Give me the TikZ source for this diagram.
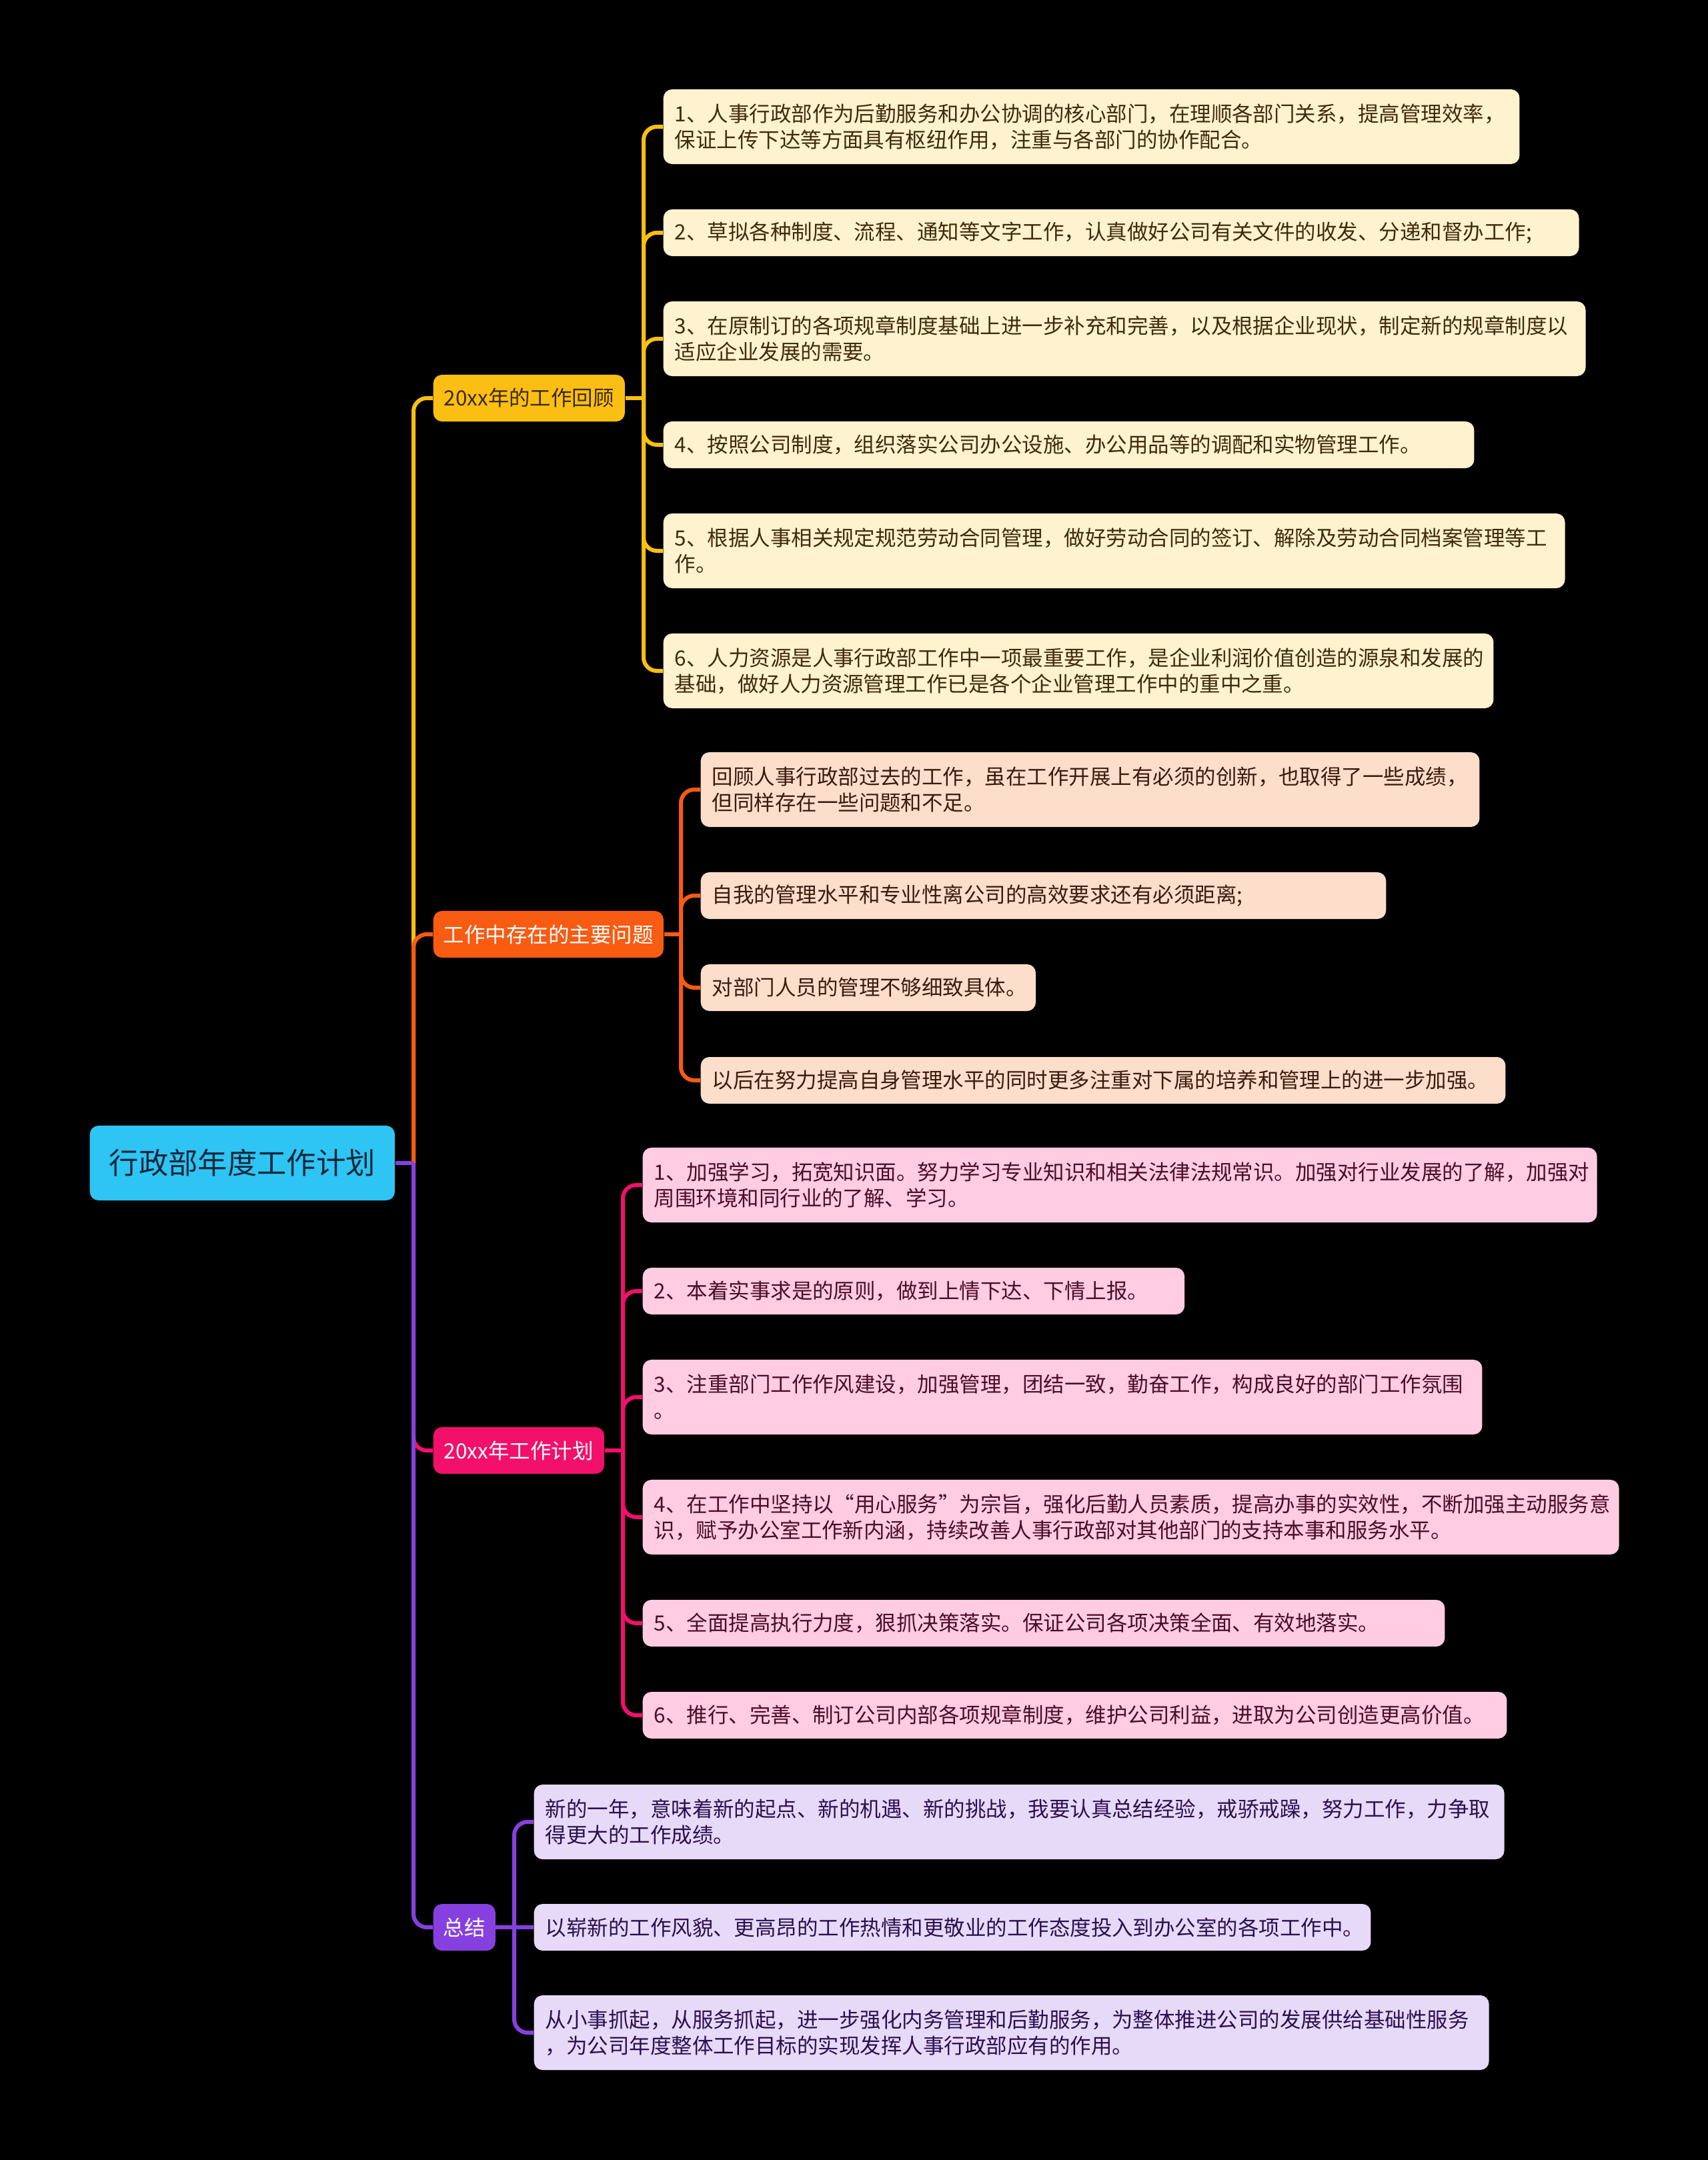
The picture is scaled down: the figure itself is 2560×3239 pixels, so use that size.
\documentclass[tikz,border=0pt]{standalone}
\usepackage{fontspec}
\setmainfont{Noto Sans CJK SC}
\definecolor{rootfill}{HTML}{2EC4F4}
\definecolor{roottext}{HTML}{10283A}
\definecolor{yl}{HTML}{FBBF14}
\definecolor{og}{HTML}{F85B12}
\definecolor{pk}{HTML}{F2106A}
\definecolor{pp}{HTML}{8740E0}
\definecolor{yfill}{HTML}{FFF2CF}
\definecolor{ytext}{HTML}{3F2B0B}
\definecolor{ofill}{HTML}{FDDECB}
\definecolor{otext}{HTML}{3D1A0C}
\definecolor{pfill}{HTML}{FFCCE2}
\definecolor{ptext}{HTML}{4A0D28}
\definecolor{vfill}{HTML}{E7D9F8}
\definecolor{vtext}{HTML}{2A1050}
\definecolor{b1text}{HTML}{3C2A00}
\tikzset{
  box/.style={rounded corners=0.13cm, anchor=west, inner xsep=0.17cm, inner ysep=0pt,
    font=\fontsize{8.95pt}{11.1pt}\selectfont},
  leafbox/.style={box, align=left},
  yleaf/.style={leafbox, fill=yfill, text=ytext},
  oleaf/.style={leafbox, fill=ofill, text=otext},
  pleaf/.style={leafbox, fill=pfill, text=ptext},
  vleaf/.style={leafbox, fill=vfill, text=vtext},
  branchbox/.style={box, align=center, minimum height=0.70cm, inner xsep=0pt},
  link/.style={line width=0.06cm},
  curvelink/.style={link, rounded corners=0.2cm},
}
\newcommand{\lf}[7]{\node[#1, text width=#5cm-0.34cm, minimum height=#6cm] (#2) at (#3,#4) {#7};}
\begin{document}
\begin{tikzpicture}[x=0.01cm, y=-0.01cm]
\useasboundingbox (0,0) rectangle (2560,3239);
\fill[black] (-10,-10) rectangle (2570,3249);

% root and branches
\node[box, align=center, fill=rootfill, text=roottext, minimum width=4.57cm, minimum height=1.12cm, inner xsep=0pt,
  font=\fontsize{12.6pt}{15pt}\selectfont] (root) at (134,1744) {行政部年度工作计划};
\node[branchbox, fill=yl, text=b1text, minimum width=2.87cm] (b1) at (649,597) {20xx年的工作回顾};
\node[branchbox, fill=og, text=white, minimum width=3.45cm] (b2) at (649,1401) {工作中存在的主要问题};
\node[branchbox, fill=pk, text=white, minimum width=2.56cm] (b3) at (649,2175) {20xx年工作计划};
\node[branchbox, fill=pp, text=white, minimum width=0.93cm] (b4) at (649,2890) {总结};

% leaves of branch 1
\lf{yleaf}{l11}{994}{190}{12.83}{1.12}{1、人事行政部作为后勤服务和办公协调的核心部门，在理顺各部门关系，提高管理效率，\\保证上传下达等方面具有枢纽作用，注重与各部门的协作配合。}
\lf{yleaf}{l12}{994}{349}{13.72}{0.70}{2、草拟各种制度、流程、通知等文字工作，认真做好公司有关文件的收发、分递和督办工作;}
\lf{yleaf}{l13}{994}{508}{13.82}{1.12}{3、在原制订的各项规章制度基础上进一步补充和完善，以及根据企业现状，制定新的规章制度以\\适应企业发展的需要。}
\lf{yleaf}{l14}{994}{667}{12.15}{0.70}{4、按照公司制度，组织落实公司办公设施、办公用品等的调配和实物管理工作。}
\lf{yleaf}{l15}{994}{826}{13.51}{1.12}{5、根据人事相关规定规范劳动合同管理，做好劳动合同的签订、解除及劳动合同档案管理等工\\作。}
\lf{yleaf}{l16}{994}{1006}{12.44}{1.12}{6、人力资源是人事行政部工作中一项最重要工作，是企业利润价值创造的源泉和发展的\\基础，做好人力资源管理工作已是各个企业管理工作中的重中之重。}

% leaves of branch 2
\lf{oleaf}{l21}{1050}{1184}{11.67}{1.12}{回顾人事行政部过去的工作，虽在工作开展上有必须的创新，也取得了一些成绩，\\但同样存在一些问题和不足。}
\lf{oleaf}{l22}{1050}{1343}{10.27}{0.70}{自我的管理水平和专业性离公司的高效要求还有必须距离;}
\lf{oleaf}{l23}{1050}{1481}{5.02}{0.70}{对部门人员的管理不够细致具体。}
\lf{oleaf}{l24}{1050}{1620}{12.06}{0.70}{以后在努力提高自身管理水平的同时更多注重对下属的培养和管理上的进一步加强。}

% leaves of branch 3
\lf{pleaf}{l31}{963}{1777}{14.30}{1.12}{1、加强学习，拓宽知识面。努力学习专业知识和相关法律法规常识。加强对行业发展的了解，加强对\\周围环境和同行业的了解、学习。}
\lf{pleaf}{l32}{963}{1936}{8.12}{0.70}{2、本着实事求是的原则，做到上情下达、下情上报。}
\lf{pleaf}{l33}{963}{2095}{12.58}{1.12}{3、注重部门工作作风建设，加强管理，团结一致，勤奋工作，构成良好的部门工作氛围\\。}
\lf{pleaf}{l34}{963}{2275}{14.63}{1.12}{4、在工作中坚持以“用心服务”为宗旨，强化后勤人员素质，提高办事的实效性，不断加强主动服务意\\识，赋予办公室工作新内涵，持续改善人事行政部对其他部门的支持本事和服务水平。}
\lf{pleaf}{l35}{963}{2434}{12.02}{0.70}{5、全面提高执行力度，狠抓决策落实。保证公司各项决策全面、有效地落实。}
\lf{pleaf}{l36}{963}{2572}{12.95}{0.70}{6、推行、完善、制订公司内部各项规章制度，维护公司利益，进取为公司创造更高价值。}

% leaves of branch 4
\lf{vleaf}{l41}{800}{2732}{14.54}{1.12}{新的一年，意味着新的起点、新的机遇、新的挑战，我要认真总结经验，戒骄戒躁，努力工作，力争取\\得更大的工作成绩。}
\lf{vleaf}{l42}{800}{2890}{12.54}{0.70}{以崭新的工作风貌、更高昂的工作热情和更敬业的工作态度投入到办公室的各项工作中。}
\lf{vleaf}{l43}{800}{3048}{14.31}{1.12}{从小事抓起，从服务抓起，进一步强化内务管理和后勤服务，为整体推进公司的发展供给基础性服务\\，为公司年度整体工作目标的实现发挥人事行政部应有的作用。}

% junction points
\coordinate (j0) at (620,1744);
\coordinate (j1) at (965,597);
\coordinate (j2) at (1021,1401);
\coordinate (j3) at (934,2175);
\coordinate (j4) at (771,2890);

% trunk connectors
\draw[link, yl] (root.east) -- (j0);
\draw[curvelink, yl] (j0) |- (b1.west);
\draw[link, og] (root.east) -- (j0);
\draw[curvelink, og] (j0) |- (b2.west);
\draw[link, pk] (root.east) -- (j0);
\draw[curvelink, pk] (j0) |- (b3.west);
\draw[link, pp] (root.east) -- (j0);
\draw[curvelink, pp] (j0) |- (b4.west);

% branch 1 connectors
\draw[link, yl] (b1.east) -- (j1);
\foreach \n in {l11,l12,l13,l14,l15,l16} \draw[curvelink, yl] (j1) |- (\n.west);
% branch 2 connectors
\draw[link, og] (b2.east) -- (j2);
\foreach \n in {l21,l22,l23,l24} \draw[curvelink, og] (j2) |- (\n.west);
% branch 3 connectors
\draw[link, pk] (b3.east) -- (j3);
\foreach \n in {l31,l32,l33,l34,l35,l36} \draw[curvelink, pk] (j3) |- (\n.west);
% branch 4 connectors
\draw[link, pp] (b4.east) -- (j4);
\draw[curvelink, pp] (j4) |- (l41.west);
\draw[link, pp] (j4) -- (l42.west);
\draw[curvelink, pp] (j4) |- (l43.west);
\end{tikzpicture}
\end{document}
